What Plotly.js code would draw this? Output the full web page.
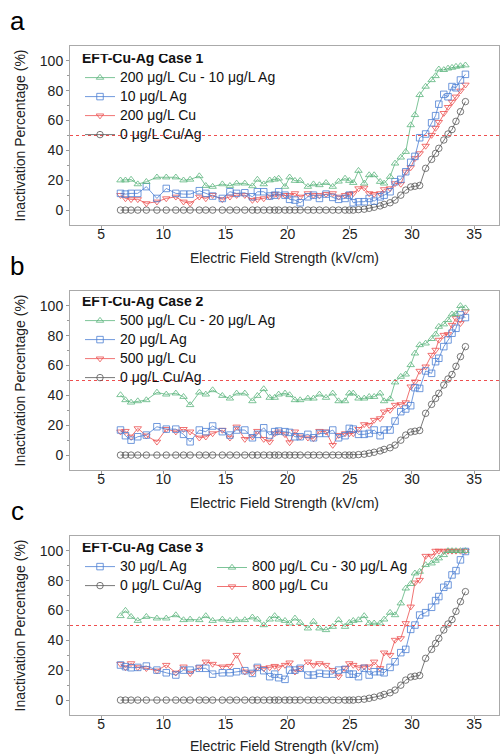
<!DOCTYPE html>
<html>
<head>
<meta charset="utf-8">
<script src="https://cdn.plot.ly/plotly-3.0.1.min.js"></script>
<style>html,body{margin:0;padding:0;background:#fff;}#chart{width:500px;height:754px;}</style>
</head>
<body>
<div id="chart"></div>
<script>
// Electric field strength (kV/cm), shared by all series
const fieldStrength = [6.56,6.96,7.41,7.95,8.64,9.49,10.24,11.01,11.63,12.16,12.9,13.42,13.97,14.75,15.36,15.9,16.56,17.17,17.57,18.08,18.56,18.96,19.28,19.79,20.16,20.59,21.01,21.63,22.08,22.56,23.09,23.63,24.1,24.62,24.96,25.28,25.7,26.16,26.56,26.96,27.44,27.76,28.24,28.64,29.1,29.5,29.9,30.24,30.62,31.1,31.58,31.9,32.16,32.56,32.9,33.22,33.54,33.9,34.3];

const control = [0,0,0,0,0,0,0,0,0,0, 0,0,0,0,0,0,0,0,0,0, 0,0,0,0,0,0,0,0,0,0, 0,0,0,0,0,0,0.3,0.6,1.2,1.9, 2.8,3.8,4.9,6.7,10,13.4,15.5,16,16.5,28, 34,38,41.4,47,51,54,59.5,66,72.7];

// Case 1
const case1CuAg = [20,20,20.5,17.4,19,22,22,22,20,20.5, 22.8,16.3,15.7,17.4,16.3,17.9,17.9,16.1,20.5,17.4, 20,20.5,21.2,15.7,22,19.7,19.7,15.7,17.4,16.8, 18.3,15.7,19.2,21.2,19.7,18.3,26.4,17.9,23.5,23.5, 19,17.9,22.4,31.3,35.3,39.1,57,63.8,77.2,82.8, 87.2,89.9,94.4,94,95,95.5,96.2,96.6,97.1];
const case1Ag = [11.2,10.7,11.2,11.2,15.7,7.8,14.5,11.2,10.7,10.7, 13,11.2,9.4,7.8,12.3,11.2,11.6,8.9,12.3,12.3, 9.4,10,12.3,10,7.2,6.7,4.9,8.9,10,7.8, 10.7,8.5,7.2,7.8,10,4.9,5.6,5.6,7.8,6, 8.9,10,12.3,19,20.6,25.7,32,36,48.5,51, 58.5,63.3,71,77.6,76,82.8,82,87.2,91];
const case1Cu = [10,7.8,7.2,7.2,4.5,5.6,7.8,8.9,5.6,4.5, 8.9,7.8,10,7.2,8.9,10,10,6.7,7.2,7.8, 8.9,10.7,9.4,10,10,11.2,8.9,11.2,10,10, 10.7,11.2,8.9,10,10.7,11.2,14.5,15,11.2,10.7, 11.2,13.9,14.5,17.9,17.5,25.7,28.6,34.7,38,43, 50.3,55,59,65,69,72.5,76,80,84];

// Case 2
const case2CuAg = [40.3,36.9,35.3,36.2,36.9,42,40.7,41.4,39.1,33.6, 42,40.7,43.6,39.8,38,41.4,41.4,36.2,39.8,44.3, 38.5,38.5,40.7,41.4,40.3,36.9,36.9,38,38,40.7, 38.5,41.4,36.2,36.2,41.4,41.4,38,38,39.1,39.1, 41.4,36.2,37.6,48.8,52.6,54.1,60.4,68.2,73.8,74.9, 77.9,81,86.1,87.7,90.6,94.4,94.6,100,98.5];
const case2Ag = [16.8,13,10,12.3,13.4,19,17.4,17.4,13.9,8.9, 16.8,15.7,19.5,15.7,13.4,16.8,16.8,11.6,13.9,18.3, 13.4,15.7,16.1,15.7,15.2,12.3,12.3,13.9,11.6,14.5, 14.5,16.8,11.6,13,17.9,17.4,13.9,13.9,14.5,16.8, 13,16.8,16.8,22.8,29.1,30.9,33.1,45.2,44.7,56.4, 54.8,62.6,64.9,72.7,77.2,81.7,85,94,92.2];
const case2Cu = [15.7,16.1,12.3,17.9,13,8.9,17.4,15.7,17.4,15.7, 11.6,12.3,14.5,16.8,11.6,19,10.7,12.3,16.1,10.7, 8.9,14.5,15.7,13.9,8.5,15.7,12.3,11.6,11.2,16.1, 15.7,6.7,13.4,14.5,14.5,14.5,17.4,20.6,20.1,23.5, 24.6,29.1,30.2,33.6,34,35.3,45.9,49.2,56.4,59.3, 67.1,70.5,77.2,80.5,81,87.2,91.7,88.4,96.2];

// Case 3
const case3CuAg = [56.4,60,55.9,53.2,55.9,54.8,54.8,57,53.7,54.1, 53.7,56.4,53.2,54.1,53.2,53.7,53.7,55.5,54.1,50.3, 54.1,56.4,54.1,53.2,51.5,54.8,51.9,48.1,52.6,48.1, 47,49.2,53.7,49.2,51.9,53.2,53.7,56.4,51.5,51.5, 51.5,54.1,58.6,57,64.9,74.9,77.9,85,86.1,90.6, 91.7,93.5,95.1,97.3,100,100,100,100,100];
const case3Ag = [23.5,22.4,21.7,21.9,22.8,20.1,18.3,16.8,20.1,20.1, 21.3,21.3,17.4,18.3,18.3,19,19.7,17.9,21.9,19.7, 15.7,17.4,15,13.9,20.1,20.1,21.3,16.8,16.8,17.9, 17.4,17.4,20.1,20.6,17.4,17.4,15.7,21.3,16.8,19, 19,18.3,21.9,25.7,31.8,34,47.4,50.3,57,58.6, 62.2,66.7,69.4,75.6,77.2,83.9,86.8,94,99.6];
const case3Cu = [24.2,21.9,24.6,21.9,21.3,19.7,23.5,18.3,22.4,17.9, 21.9,25.7,24.2,22.4,22.8,30.2,19,18.3,21.9,21.3, 21.9,22.8,21.9,23.5,25.1,19,21.3,25.7,23.5,24.6, 23.5,20.1,15.7,21.3,24.6,23.5,21.9,22.4,22.4,25.7, 21.3,31.8,30.2,40.3,41.4,51.5,62.6,78.7,80.5,96.6, 96.6,100,100,100,100,100,100,100,100];

const threshold = 50;
const xTicks = [5,10,15,20,25,30,35];
const xTickLabels = ['5','10','15','20','25','30','35'];
const yTicks = [0,20,40,60,80,100];
const yMinorTicks = [10,30,50,70,90];
const caseTitles = ['EFT-Cu-Ag Case 1','EFT-Cu-Ag Case 2','EFT-Cu-Ag Case 3'];
const panelLetters = ['a','b','c'];

const FONT = 'Liberation Sans, Arial, sans-serif';
const C = {green:'#5cb57e', blue:'#4b7fd3', red:'#ec4f4f', black:'#555555'};
const SYM = {green:'triangle-up-open', blue:'square-open', red:'triangle-down-open', black:'circle-open'};

function big(t){ return '<span style="font-size:14px">' + t + '</span>'; }

function tr(y, name, col, ax, legend, rank){
  return {x: fieldStrength, y: y, name: big(name), type:'scatter', mode:'lines+markers',
    xaxis: 'x'+(ax===1?'':ax), yaxis: 'y'+(ax===1?'':ax), legend: legend, legendrank: rank,
    line:{color:C[col], width:0.8},
    marker:{symbol:SYM[col], size:6.5, color:C[col], line:{width:0.8, color:C[col]}}};
}

const traces = [
  tr(control,'0 μg/L Cu/Ag','black',1,'legend',4),
  tr(case1Cu,'200 μg/L Cu','red',1,'legend',3),
  tr(case1Ag,'10 μg/L Ag','blue',1,'legend',2),
  tr(case1CuAg,'200 μg/L Cu - 10 μg/L Ag','green',1,'legend',1),
  tr(control,'0 μg/L Cu/Ag','black',2,'legend2',4),
  tr(case2Cu,'500 μg/L Cu','red',2,'legend2',3),
  tr(case2Ag,'20 μg/L Ag','blue',2,'legend2',2),
  tr(case2CuAg,'500 μg/L Cu - 20 μg/L Ag','green',2,'legend2',1),
  tr(control,'0 μg/L Cu/Ag','black',3,'legend3',2),
  tr(case3Cu,'800 μg/L Cu','red',3,'legend4',2),
  tr(case3Ag,'30 μg/L Ag','blue',3,'legend3',1),
  tr(case3CuAg,'800 μg/L Cu - 30 μg/L Ag','green',3,'legend4',1)
];

const W = 500, H = 754, ML = 70, MR = 1;
const PW = W - ML - MR;
const panelTops = [46, 291, 536];
const panelH = 179;
function py(pix){ return (H - pix) / H; }
function px(pix){ return (pix - ML) / PW; }

function xax(anchor){
  return {anchor: anchor, domain:[0,1], range:[2.5,37], tickvals:xTicks, ticktext:xTickLabels.map(big),
    ticks:'outside', ticklen:3,
    tickcolor:'#999', linecolor:'#aaa', linewidth:1, mirror:true, showline:true, showgrid:false, zeroline:false,
    tickfont:{size:8, color:'#222', family:FONT},
    title:{text:'Electric Field Strength (kV/cm)', font:{size:14, color:'#222', family:FONT}, standoff:12}};
}
function yax(anchor, i){
  const top = panelTops[i];
  return {anchor: anchor, domain:[py(top+panelH), py(top)], range:[-10,110], tickvals:yTicks, ticks:'outside', ticklen:3,
    tickcolor:'#999', linecolor:'#aaa', linewidth:1, mirror:true, showline:true, showgrid:false, zeroline:false,
    minor:{tickvals:yMinorTicks, ticks:'outside', ticklen:2, tickcolor:'#999'},
    tickfont:{size:14, color:'#222', family:FONT},
    title:{text:'Inactivation Percentage (%)', font:{size:14, color:'#222', family:FONT}, standoff:10}};
}
function leg(xPix, topPix, title){
  const l = {x: px(xPix), y: py(topPix), xanchor:'left', yanchor:'top', bgcolor:'rgba(0,0,0,0)',
    borderwidth:0, font:{size:10, color:'#111', family:FONT}, traceorder:'normal', tracegroupgap:0, itemwidth:30};
  if (title) l.title = {text: '<b>'+big(title)+'</b>', font:{size:7, color:'#111', family:FONT}, side:'top'};
  return l;
}

const shapes = [1,2,3].map(k => ({type:'line', xref:(k===1?'x':'x'+k)+' domain', yref:(k===1?'y':'y'+k),
  x0:0, x1:1, y0:threshold, y1:threshold, line:{color:'#ee4f4f', width:1, dash:'dot'}}));

const annotations = panelLetters.map((t,i) => ({text:t, xref:'paper', yref:'paper', x:px(17), y:py(panelTops[i]-25),
  xanchor:'center', yanchor:'middle', showarrow:false, font:{size:26, color:'#000', family:FONT}}));

const layout = {
  width:W, height:H, margin:{l:ML, r:MR, t:0, b:0}, paper_bgcolor:'#fff', plot_bgcolor:'#fff',
  font:{family:FONT}, showlegend:true,
  xaxis: xax('y'), yaxis: yax('x',0),
  xaxis2: xax('y2'), yaxis2: yax('x2',1),
  xaxis3: xax('y3'), yaxis3: yax('x3',2),
  legend: leg(80, 54, caseTitles[0]),
  legend2: leg(80, 297, caseTitles[1]),
  legend3: leg(80, 543, caseTitles[2]),
  legend4: leg(212, 553, null),
  shapes: shapes, annotations: annotations
};

Plotly.newPlot('chart', traces, layout, {staticPlot:true, displayModeBar:false});
</script>
</body>
</html>
